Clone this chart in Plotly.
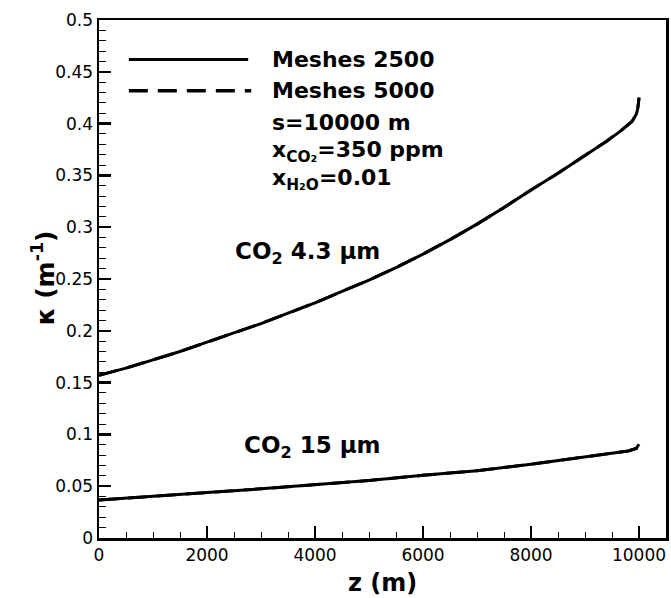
import plotly.graph_objects as go

# ---------------- data ----------------
z_upper = [0, 500, 1000, 1500, 2000, 2500, 3000, 3500, 4000, 4500, 5000, 5500, 6000,
           6500, 7000, 7500, 8000, 8500, 9000, 9400, 9650, 9870, 9950, 9975, 9990, 10000]
k_upper_2500 = [0.157, 0.164, 0.172, 0.180, 0.189, 0.198, 0.207, 0.217, 0.227, 0.238, 0.249,
                0.261, 0.274, 0.288, 0.303, 0.319, 0.336, 0.352, 0.369, 0.383, 0.3925, 0.402,
                0.409, 0.414, 0.420, 0.425]
k_upper_5000 = [0.157, 0.164, 0.172, 0.180, 0.189, 0.198, 0.207, 0.217, 0.227, 0.238, 0.249,
                0.261, 0.274, 0.288, 0.303, 0.319, 0.336, 0.352, 0.369, 0.383, 0.3925, 0.402,
                0.409, 0.414, 0.420, 0.425]

z_lower = [0, 1000, 2000, 3000, 4000, 5000, 6000, 7000, 8000, 9000, 9500, 9800, 9950, 10000]
k_lower_2500 = [0.0367, 0.0400, 0.0438, 0.0475, 0.0512, 0.0555, 0.0605, 0.0650, 0.0712,
                0.0780, 0.0815, 0.0840, 0.0865, 0.0905]
k_lower_5000 = [0.0367, 0.0400, 0.0438, 0.0475, 0.0512, 0.0555, 0.0605, 0.0650, 0.0712,
                0.0780, 0.0815, 0.0840, 0.0865, 0.0905]

x_tickvals = [0, 2000, 4000, 6000, 8000, 10000]
x_ticktext = ["0", "2000", "4000", "6000", "8000", "10000"]
y_tickvals = [0, 0.05, 0.1, 0.15, 0.2, 0.25, 0.3, 0.35, 0.4, 0.45, 0.5]
y_ticktext = ["0", "0.05", "0.1", "0.15", "0.2", "0.25", "0.3", "0.35", "0.4", "0.45", "0.5"]

legend_names = ["Meshes 2500", "Meshes 5000"]
info_lines = ["s=10000 m", "x<sub>CO₂</sub>=350 ppm", "x<sub>H₂O</sub>=0.01"]
band_labels = ["CO<sub>2</sub> 4.3 μm", "CO<sub>2</sub> 15 μm"]

# ---------------- layout geometry ----------------
W, H = 671, 598
L, R, T, B = 99, 2, 20, 60
PW, PH = W - L - R, H - T - B


def px(x):
    return (x - L) / PW


def py(y):
    return (H - B - y) / PH


FONT = "DejaVu Sans"
BOLD = "DejaVu Sans"

fig = go.Figure()
line_style = dict(color="black", width=3)
fig.add_trace(go.Scatter(x=z_upper, y=k_upper_2500, mode="lines", line=line_style,
                         name=legend_names[0], showlegend=False))
fig.add_trace(go.Scatter(x=z_lower, y=k_lower_2500, mode="lines", line=line_style,
                         name=legend_names[0], showlegend=False))
fig.add_trace(go.Scatter(x=z_upper, y=k_upper_5000, mode="lines",
                         line=dict(color="black", width=3, dash="19px,10px"),
                         name=legend_names[1], showlegend=False))
fig.add_trace(go.Scatter(x=z_lower, y=k_lower_5000, mode="lines",
                         line=dict(color="black", width=3, dash="19px,10px"),
                         name=legend_names[1], showlegend=False))

# legend samples
fig.add_shape(type="line", xref="paper", yref="paper", x0=px(129), x1=px(249),
              y0=py(59.5), y1=py(59.5), line=dict(color="black", width=3))
fig.add_shape(type="line", xref="paper", yref="paper", x0=px(129), x1=px(252),
              y0=py(90.7), y1=py(90.7), line=dict(color="black", width=3.5, dash="19px,10px"))

ann = []
text_rows = legend_names + info_lines
row_y = [60, 90.5, 122, 151, 179]
for t, yy in zip(text_rows, row_y):
    ann.append(dict(text="<b>%s</b>" % t, x=px(271), y=py(yy), xref="paper", yref="paper",
                    xanchor="left", yanchor="middle", showarrow=False,
                    font=dict(family=BOLD, size=22, color="black")))

ann.append(dict(text="<b>%s</b>" % band_labels[0], x=px(308.5), y=py(253), xref="paper",
                yref="paper", xanchor="center", yanchor="middle", showarrow=False,
                font=dict(family=BOLD, size=23, color="black")))
ann.append(dict(text="<b>%s</b>" % band_labels[1], x=px(314), y=py(447), xref="paper",
                yref="paper", xanchor="center", yanchor="middle", showarrow=False,
                font=dict(family=BOLD, size=23, color="black")))

# axis titles
ann.append(dict(text="<b>z (m)</b>", x=px(384), y=py(583), xref="paper", yref="paper",
                xanchor="center", yanchor="middle", showarrow=False,
                font=dict(family=BOLD, size=24, color="black")))
ann.append(dict(text="<b>κ (m<sup>-1</sup>)</b>", x=px(43), y=py(278), xref="paper",
                yref="paper", xanchor="center", yanchor="middle", showarrow=False,
                textangle=-90, font=dict(family=BOLD, size=25, color="black")))

axis_common = dict(showline=True, linecolor="black", linewidth=2.5, mirror=True,
                   showgrid=False, zeroline=False, ticks="inside", ticklen=12,
                   tickwidth=2.5, tickcolor="black",
                   tickfont=dict(family=FONT, size=17, color="black"))

fig.update_xaxes(range=[0, 10500], tickmode="array", tickvals=x_tickvals,
                 ticktext=x_ticktext,
                 minor=dict(ticks="inside", ticklen=6, tickwidth=1, tickcolor="black",
                            tickmode="linear", tick0=0, dtick=500),
                 **axis_common)
fig.update_yaxes(range=[0, 0.5], tickmode="array", tickvals=y_tickvals,
                 ticktext=y_ticktext,
                 minor=dict(ticks="inside", ticklen=7, tickwidth=1, tickcolor="black",
                            tickmode="linear", tick0=0, dtick=0.01),
                 **axis_common)

fig.update_layout(width=W, height=H, autosize=False,
                  margin=dict(l=L, r=R, t=T, b=B, pad=0),
                  plot_bgcolor="white", paper_bgcolor="white",
                  annotations=ann, showlegend=False)

fig.write_html("out.html",
               config={"displayModeBar": False, "staticPlot": True},
               post_script="document.body.style.margin='0';"
                           "document.body.style.overflow='hidden';")
